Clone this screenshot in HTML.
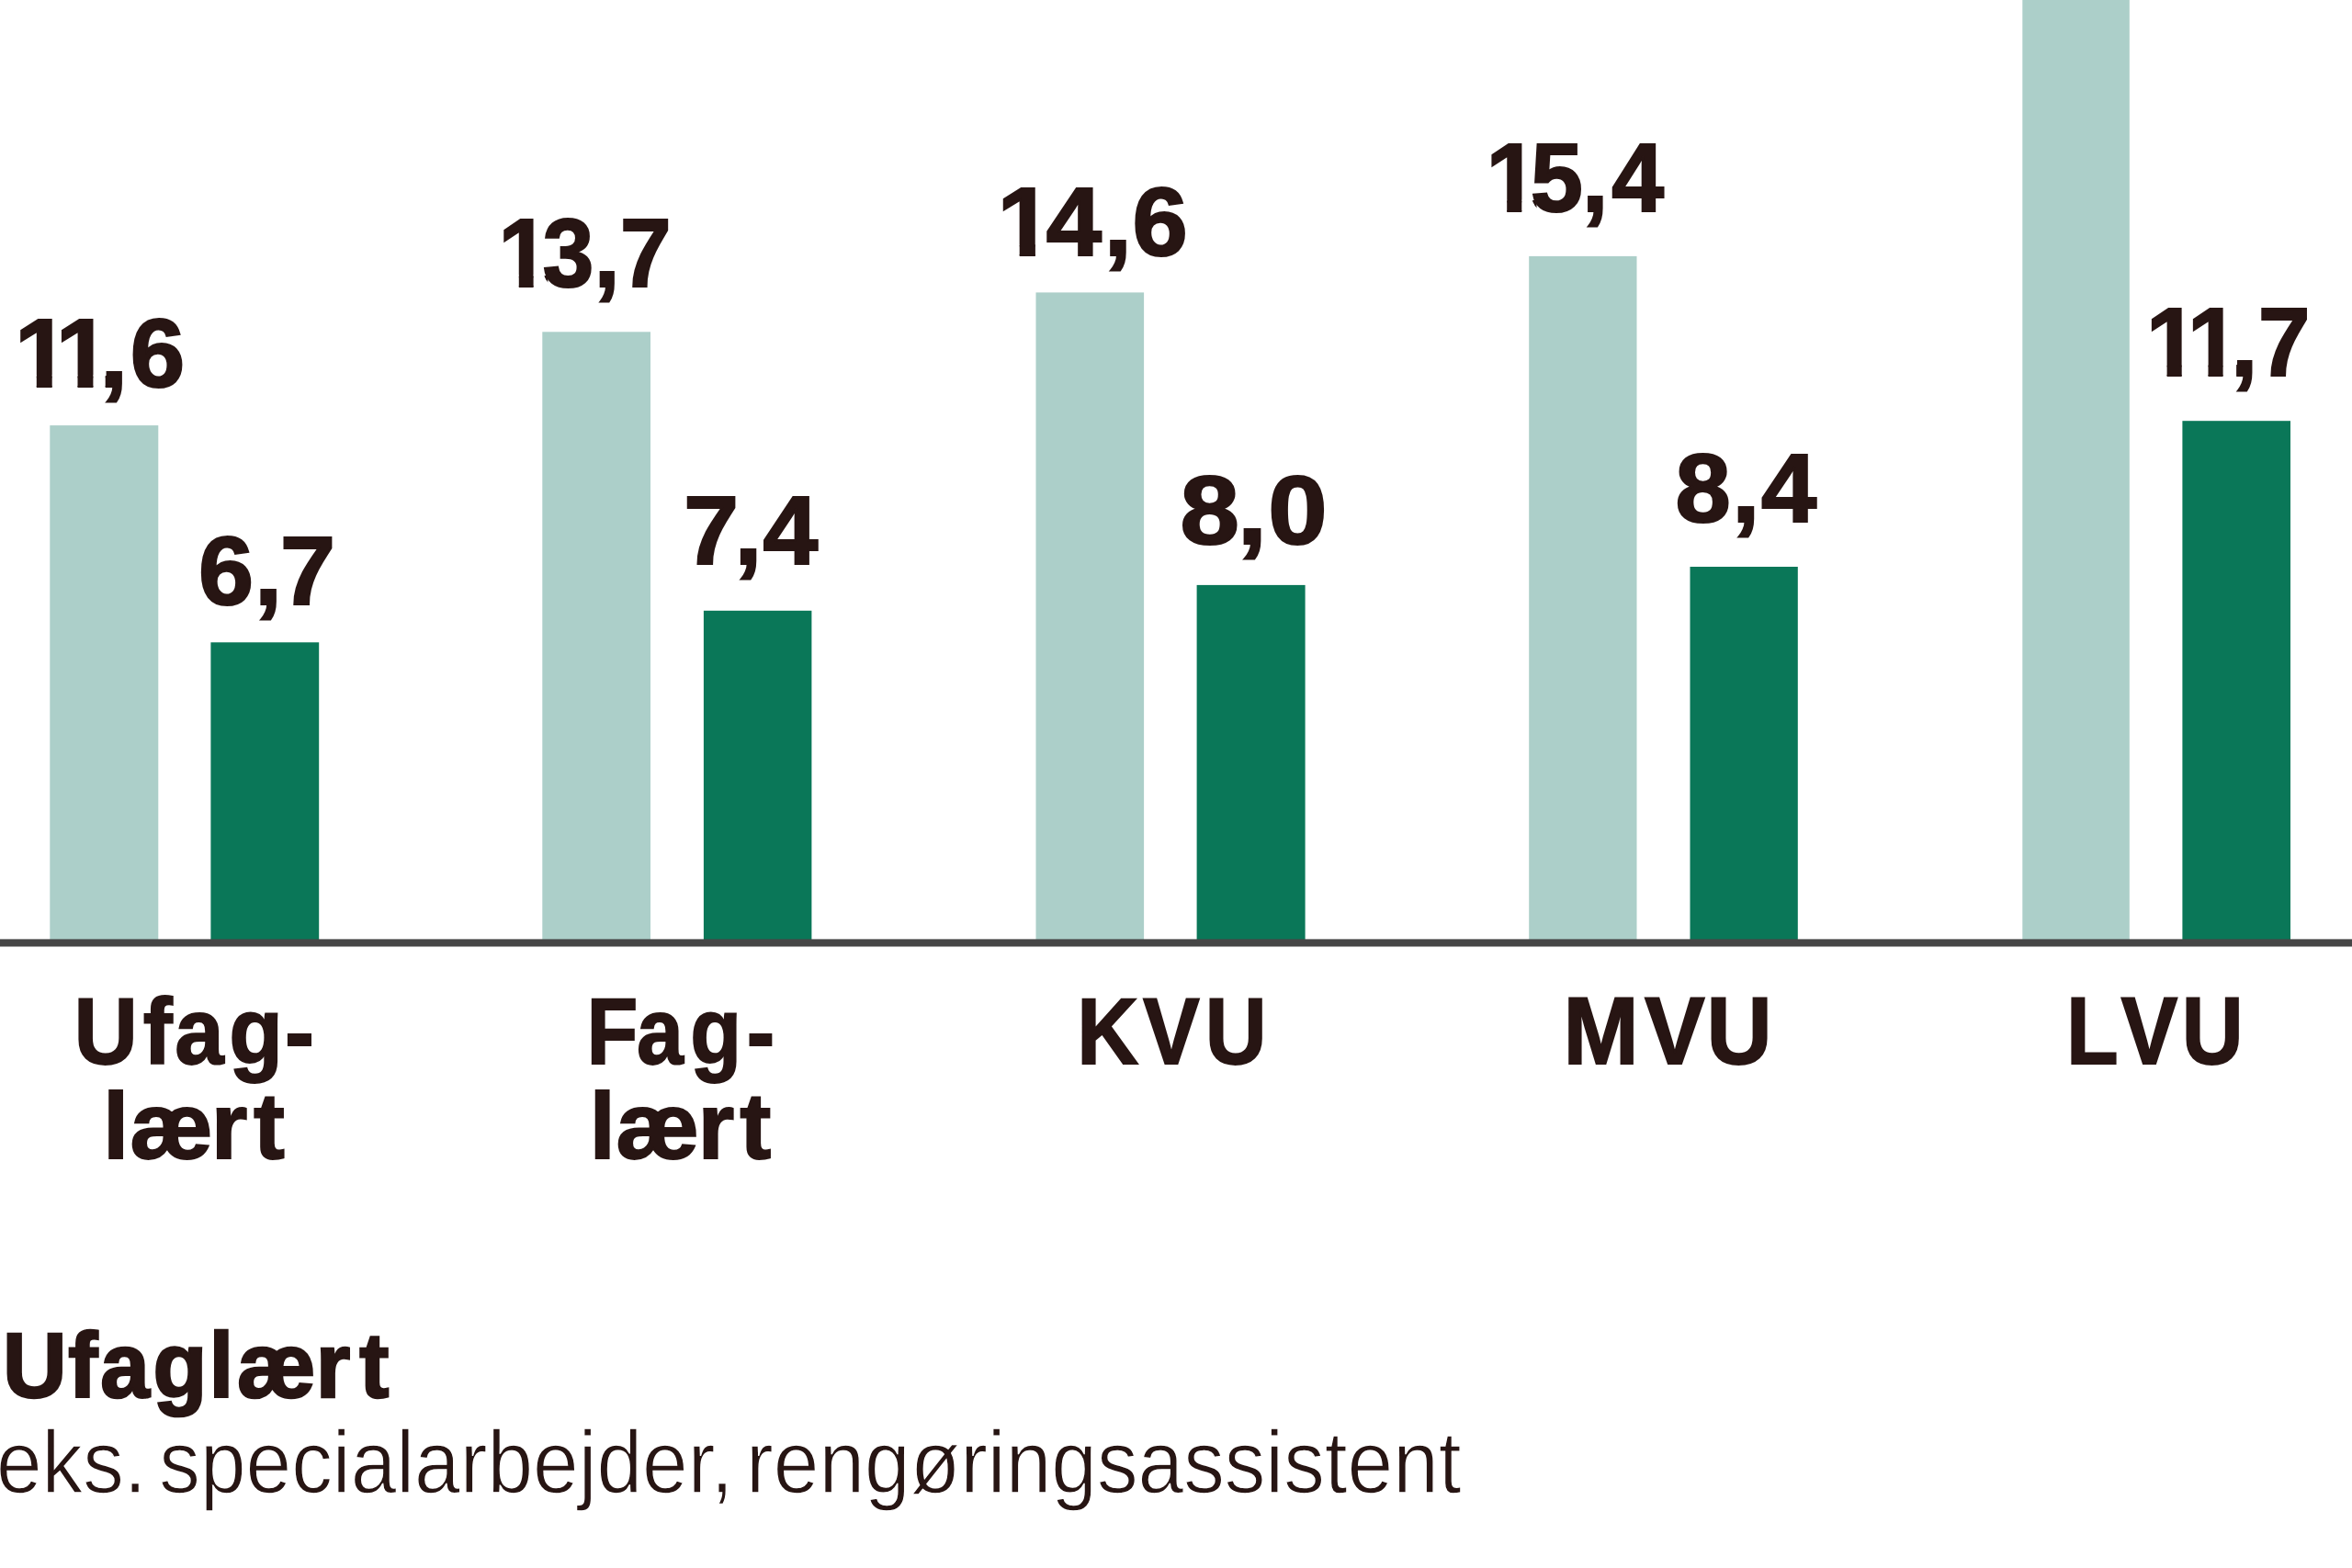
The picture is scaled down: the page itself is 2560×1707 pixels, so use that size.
<!DOCTYPE html>
<html lang="da"><head><meta charset="utf-8"><title>Ufaglært</title>
<style>
html,body{margin:0;padding:0;background:#fff;}
body{width:2560px;height:1707px;overflow:hidden;}
svg{display:block;}
text{font-family:"Liberation Sans",sans-serif;fill:#271513;stroke:#271513;stroke-linejoin:miter;}
.b{font-weight:bold;}
.l{stroke:#fff;}
</style></head><body>
<svg width="2560" height="1707" viewBox="0 0 2560 1707">
<rect width="2560" height="1707" fill="#ffffff"/>
<rect x="54.3" y="463.1" width="118.0" height="561.3" fill="#accfc9"/>
<rect x="229.4" y="699.3" width="117.8" height="325.1" fill="#0a7758"/>
<rect x="590.3" y="361.3" width="117.7" height="663.1" fill="#accfc9"/>
<rect x="765.9" y="664.8" width="117.5" height="359.6" fill="#0a7758"/>
<rect x="1127.5" y="318.4" width="117.6" height="706.0" fill="#accfc9"/>
<rect x="1302.6" y="636.9" width="118.0" height="387.5" fill="#0a7758"/>
<rect x="1664.2" y="278.9" width="117.3" height="745.5" fill="#accfc9"/>
<rect x="1839.5" y="617.0" width="117.3" height="407.4" fill="#0a7758"/>
<rect x="2201.3" y="-5" width="116.5" height="1029.4" fill="#accfc9"/>
<rect x="2375.4" y="458.2" width="117.6" height="566.2" fill="#0a7758"/>
<rect x="0" y="1022.4" width="2560" height="8.1" fill="#464646"/>
<defs><clipPath id="c0"><path clip-rule="evenodd" d="M-17.0 302.0H240.7V462.0H-17.0ZM20.0 408.4L39.8 408.4L39.8 422.8L20.0 422.8ZM56.7 408.4L84.5 408.4L84.5 422.8L56.7 422.8ZM101.4 408.4L114.7 408.4L114.7 409.8L114.7 411.3L114.7 412.7L114.7 414.2L114.7 415.6L114.7 417.0L114.7 418.5L114.7 419.9L114.7 421.4L114.7 422.8L101.4 422.8Z"/></clipPath><clipPath id="c2"><path clip-rule="evenodd" d="M508.0 193.1H768.3V353.1H508.0ZM546.3 299.5L564.8 299.5L564.8 313.9L546.3 313.9ZM580.6 299.5L592.3 299.5L592.8 300.9L593.3 302.4L594.0 303.8L594.9 305.3L596.0 306.7L597.2 308.1L597.8 309.6L597.8 311.0L597.8 312.5L597.8 313.9L580.6 313.9Z"/></clipPath><clipPath id="c4"><path clip-rule="evenodd" d="M1053.2 159.5H1331.6V319.5H1053.2ZM1089.8 265.9L1109.7 265.9L1109.7 280.3L1089.8 280.3ZM1126.9 265.9L1145.4 265.9L1145.4 267.3L1145.4 268.8L1145.4 270.2L1145.4 271.7L1145.4 273.1L1145.4 274.5L1145.4 276.0L1145.4 277.4L1145.4 278.9L1145.4 280.3L1126.9 280.3Z"/></clipPath><clipPath id="c6"><path clip-rule="evenodd" d="M1583.5 111.4H1853.4V271.4H1583.5ZM1621.3 217.8L1640.2 217.8L1640.2 232.2L1621.3 232.2ZM1656.3 217.8L1667.9 217.8L1668.4 219.2L1668.9 220.7L1669.6 222.1L1670.5 223.6L1671.6 225.0L1672.8 226.4L1673.9 227.9L1673.9 229.3L1673.9 230.8L1673.9 232.2L1656.3 232.2Z"/></clipPath><clipPath id="c8"><path clip-rule="evenodd" d="M2302.0 290.5H2551.2V450.5H2302.0ZM2339.9 396.9L2358.6 396.9L2358.6 411.3L2339.9 411.3ZM2374.7 396.9L2403.5 396.9L2403.5 411.3L2374.7 411.3ZM2419.6 396.9L2434.2 396.9L2434.2 398.3L2434.2 399.8L2434.2 401.2L2434.2 402.7L2434.2 404.1L2434.2 405.5L2434.2 407.0L2434.2 408.4L2434.2 409.9L2434.2 411.3L2419.6 411.3Z"/></clipPath></defs>
<g clip-path="url(#c0)"><text class="b" transform="scale(1.0187,1)" x="15.64 59.57 107.24 139.24" y="420.90" font-size="104.94" stroke-width="2.2">11,6</text></g>
<g><text class="b" transform="scale(1.0288,1)" x="210.00 269.19 296.43" y="658.20" font-size="104.94" stroke-width="2.2">6,7</text></g>
<g clip-path="url(#c2)"><text class="b" transform="scale(0.9518,1)" x="569.99 620.74 679.62 709.25" y="312.00" font-size="104.94" stroke-width="2.2">13,7</text></g>
<g><text class="b" transform="scale(1.0235,1)" x="727.09 781.06 811.48" y="614.10" font-size="104.94" stroke-width="2.2">7,4</text></g>
<g clip-path="url(#c4)"><text class="b" transform="scale(1.0321,1)" x="1051.85 1103.23 1164.32 1194.11" y="278.40" font-size="104.94" stroke-width="2.2">14,6</text></g>
<g><text class="b" transform="scale(1.1026,1)" x="1164.98 1221.48 1251.86" y="591.60" font-size="104.94" stroke-width="2.2">8,0</text></g>
<g clip-path="url(#c6)"><text class="b" transform="scale(0.9726,1)" x="1663.04 1712.83 1770.46 1803.62" y="230.30" font-size="104.94" stroke-width="2.2">15,4</text></g>
<g><text class="b" transform="scale(1.0315,1)" x="1767.79 1827.72 1858.41" y="568.20" font-size="104.94" stroke-width="2.2">8,4</text></g>
<g clip-path="url(#c8)"><text class="b" transform="scale(0.9664,1)" x="2417.31 2463.77 2513.57 2543.46" y="409.40" font-size="104.94" stroke-width="2.2">11,7</text></g>
<text class="b" transform="scale(0.9339,1)" x="86.08 166.86 203.62 266.77 331.98" y="1157.90" font-size="102.91" stroke-width="1.8">Ufag-</text>
<text class="b" transform="scale(0.9895,1)" x="113.19 142.80 232.19 278.82" y="1260.70" font-size="102.91" stroke-width="1.8">lært</text>
<text class="b" transform="scale(0.8894,1)" x="717.93 779.05 844.56 913.74" y="1157.90" font-size="102.91" stroke-width="1.8">Fag-</text>
<text class="b" transform="scale(0.9938,1)" x="645.42 674.36 764.16 810.17" y="1260.70" font-size="102.91" stroke-width="1.8">lært</text>
<text class="b" transform="scale(0.9000,1)" x="1302.43 1382.35 1457.51" y="1158.10" font-size="102.91" stroke-width="1.8">KVU</text>
<text class="b" transform="scale(0.9580,1)" x="1776.21 1868.36 1939.06" y="1158.10" font-size="102.91" stroke-width="1.8">MVU</text>
<text class="b" transform="scale(0.9011,1)" x="2495.83 2561.95 2635.46" y="1158.40" font-size="102.91" stroke-width="1.8">LVU</text>
<text class="b" transform="scale(0.9555,1)" x="3.13 77.85 114.32 174.21 238.05 269.96 359.80 409.36" y="1520.60" font-size="100.87" stroke-width="2.6">Ufaglært</text>
<text class="l" x="-4.03" y="1624.70" font-size="97.00" stroke-width="1.4" word-spacing="-12" textLength="1594.64" lengthAdjust="spacingAndGlyphs">eks. specialarbejder, rengøringsassistent</text>
</svg></body></html>
